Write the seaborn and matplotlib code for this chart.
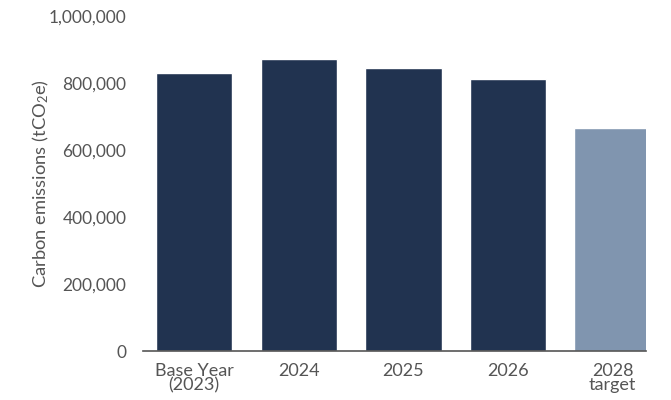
import matplotlib
matplotlib.use("Agg")
import matplotlib.pyplot as plt
import seaborn as sns
import pandas as pd

# Emissions by year
categories = ["Base Year\n(2023)", "2024", "2025", "2026", "2028\ntarget"]
emissions = [830000, 872000, 845000, 812000, 666000]
bar_colors = ["#213350", "#213350", "#213350", "#213350", "#8095AF"]
y_ticks = [0, 200000, 400000, 600000, 800000, 1000000]

sns.set_theme(style="white")
plt.rcParams["font.family"] = ["Lato", "DejaVu Sans"]
plt.rcParams["mathtext.fontset"] = "custom"
plt.rcParams["mathtext.rm"] = "Lato"
plt.rcParams["mathtext.it"] = "Lato"

text_color = "#555555"

df = pd.DataFrame({"category": categories, "emissions": emissions})

fig = plt.figure(figsize=(6.71, 4.0), dpi=100)
ax = fig.add_axes([143 / 671, 49 / 400, 503 / 671, 335 / 400])

sns.barplot(data=df, x="category", y="emissions", hue="category",
            palette=bar_colors, width=0.73, legend=False, ax=ax,
            saturation=1)

ax.set_xlim(-0.49, 4.32)
ax.set_ylim(0, 1000000)
ax.set_yticks(y_ticks)
ax.set_yticklabels([f"{v:,}" for v in y_ticks])

for side in ["top", "right", "left"]:
    ax.spines[side].set_visible(False)
ax.spines["bottom"].set_color("#555555")
ax.spines["bottom"].set_linewidth(1.2)

ax.tick_params(axis="y", length=0, pad=12, labelsize=12.5, labelcolor=text_color)
ax.tick_params(axis="x", length=0, pad=9, labelsize=13, labelcolor=text_color)
for lbl in ax.get_xticklabels():
    lbl.set_linespacing(0.8)

ax.set_xlabel("")
ax.set_ylabel("Carbon emissions (tCO$_2$e)", fontsize=13.2, color=text_color)
ax.yaxis.set_label_coords(-0.183, 0.5)

fig.savefig("out.png", dpi=100)
